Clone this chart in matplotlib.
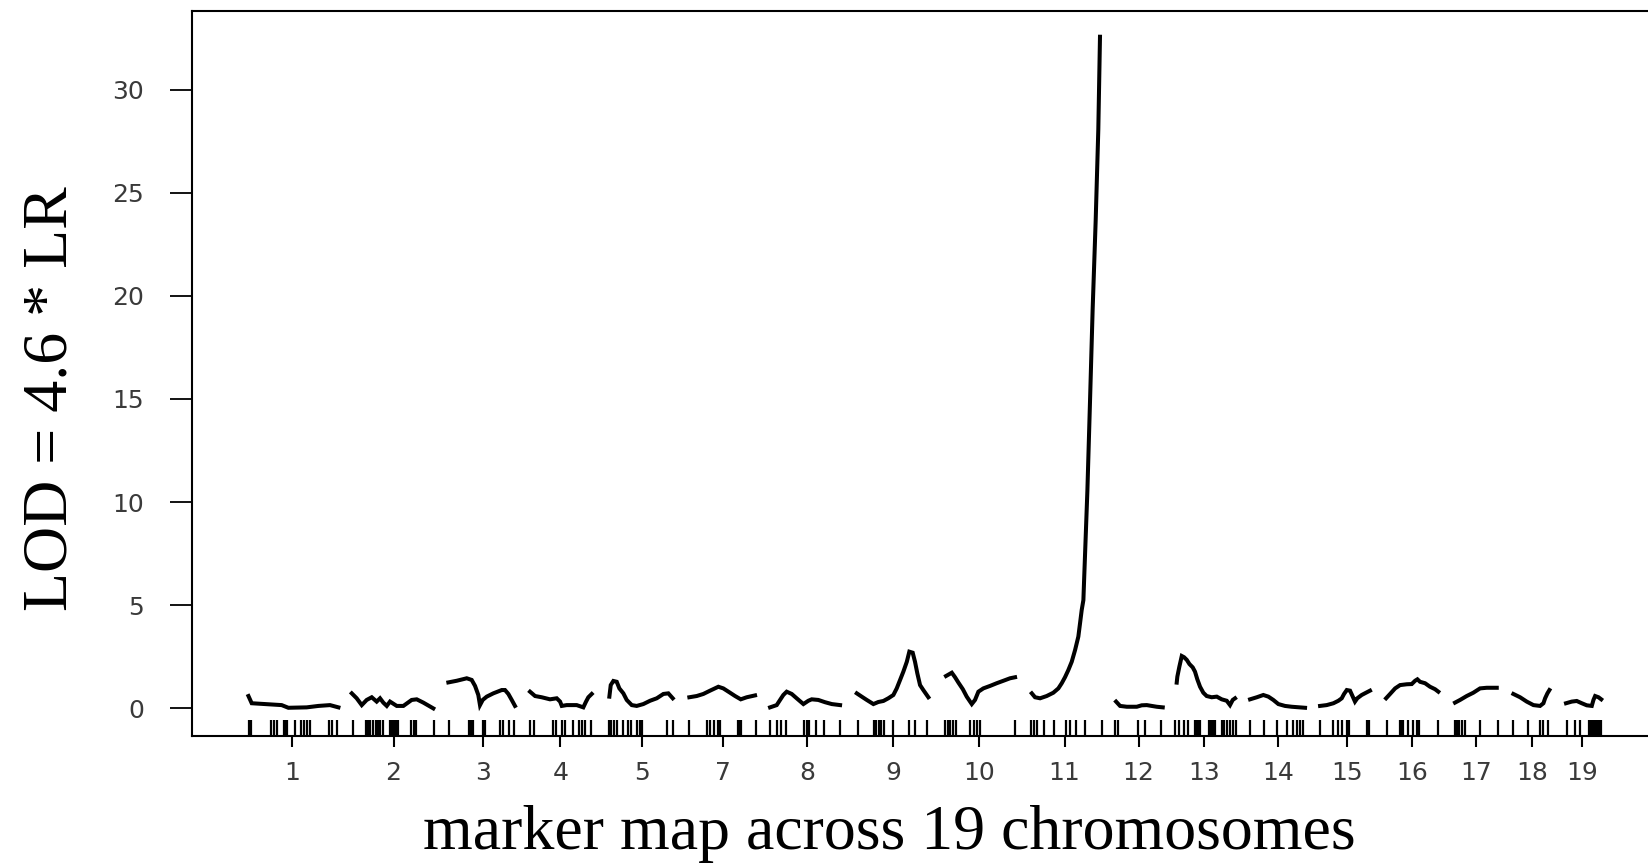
import numpy as np
import matplotlib.pyplot as plt

# LOD curves per chromosome: (map position in cM, LOD)
chr1_lod = [(53.4, 0.60), (56.5, 0.25), (85, 0.16), (91.4, 0.03), (108.8, 0.05),
            (120, 0.12), (131, 0.16), (139, 0.05)]
chr2_lod = [(151.7, 0.73), (156.4, 0.49), (161.2, 0.16), (165.9, 0.41), (170.7, 0.54),
            (175.4, 0.33), (178.6, 0.49), (181.7, 0.28), (185, 0.12), (188.1, 0.33),
            (194.5, 0.12), (200.8, 0.12), (208.7, 0.41), (213.5, 0.44), (219.8, 0.28),
            (229.3, 0.0)]
chr3_lod = [(243.6, 1.26), (251.6, 1.34), (261.1, 1.46), (265.8, 1.38), (269, 1.09),
            (272.1, 0.65), (273.7, 0.16), (276.3, 0.41), (280.1, 0.57), (286.4, 0.73),
            (294.4, 0.89), (297.5, 0.89), (300.7, 0.70), (303.9, 0.41), (307, 0.12)]
chr4_lod = [(321.3, 0.81), (326.1, 0.60), (332.4, 0.54), (340.3, 0.44), (346.7, 0.49),
            (349.9, 0.33), (351.5, 0.12), (356.2, 0.16), (365.7, 0.16), (372, 0.05),
            (374.6, 0.33), (376.8, 0.54), (380, 0.70)]
chr5_lod = [(396.8, 0.57), (398.1, 1.13), (400.6, 1.33), (403.8, 1.29), (406.3, 0.97),
            (410.1, 0.73), (413.3, 0.41), (418.1, 0.16), (422.8, 0.12), (429.1, 0.21),
            (435.5, 0.37), (441.9, 0.49), (448.2, 0.70), (452.9, 0.73), (457.1, 0.49)]
chr7_lod = [(472.9, 0.54), (479.9, 0.60), (486.2, 0.70), (492.6, 0.86), (500.5, 1.05),
            (505.2, 0.97), (511.6, 0.76), (516.4, 0.60), (521.8, 0.44), (527.5, 0.54),
            (535.4, 0.63)]
chr8_lod = [(549.7, 0.05), (556, 0.16), (559.2, 0.41), (562.3, 0.65), (565.5, 0.81),
            (570.3, 0.70), (575, 0.49), (581.4, 0.21), (586.1, 0.37), (589.3, 0.44),
            (595.6, 0.41), (602, 0.30), (608.4, 0.21), (616.3, 0.16)]
chr9_lod = [(632.2, 0.73), (636.9, 0.57), (641.7, 0.41), (648, 0.21), (652.7, 0.31),
            (657.5, 0.36), (662.2, 0.49), (667, 0.65), (670.2, 0.97), (673.4, 1.38),
            (676.5, 1.78), (679.8, 2.26), (682.2, 2.75), (685.4, 2.70), (687.6, 2.26),
            (689.8, 1.70), (692.4, 1.13), (695.5, 0.89), (700.3, 0.54)]
chr10_lod = [(717.1, 1.57), (722.6, 1.73), (725.7, 1.51), (728.9, 1.25), (733.1, 0.93),
             (736.8, 0.57), (741.6, 0.21), (744.7, 0.41), (747.9, 0.81), (752.6, 0.97),
             (759, 1.09), (765.3, 1.22), (771.7, 1.34), (778, 1.46), (782.8, 1.51)]
chr11_lod = [(798.7, 0.73), (801.8, 0.54), (806.6, 0.49), (812.9, 0.60), (819.2, 0.76),
             (824, 0.97), (827.2, 1.22), (830.3, 1.51), (833.5, 1.86), (836.7, 2.26),
             (839.9, 2.83), (843, 3.48), (844.6, 4.12), (846.2, 4.77), (847.8, 5.25),
             (848.4, 6.10), (851.6, 10.55), (854.1, 14.88), (856.6, 19.33), (859.5, 23.66),
             (862, 28.07), (863.6, 32.56)]
chr12_lod = [(878.9, 0.33), (882.7, 0.12), (889.1, 0.08), (898.6, 0.08), (903.3, 0.15),
             (908.1, 0.16), (912.8, 0.12), (917.6, 0.08), (923.3, 0.05)]
chr13_lod = [(936.6, 1.25), (937.2, 1.54), (939.1, 2.02), (941.4, 2.54), (943.6, 2.48),
             (946.2, 2.35), (948.7, 2.15), (951.8, 1.99), (954, 1.78), (956.2, 1.41),
             (958.8, 1.05), (961.9, 0.76), (965.1, 0.60), (969.9, 0.54), (974.7, 0.57),
             (979.4, 0.44), (984.2, 0.37), (987.3, 0.16), (989.9, 0.41), (992.1, 0.49)]
chr14_lod = [(1006.4, 0.44), (1012.8, 0.54), (1019, 0.65), (1023.8, 0.57), (1028.5, 0.41),
             (1033.3, 0.21), (1039.6, 0.12), (1046, 0.08), (1058.7, 0.03)]
chr15_lod = [(1073, 0.12), (1079.3, 0.16), (1085.7, 0.25), (1090.4, 0.37), (1093.6, 0.49),
             (1095.8, 0.70), (1098.4, 0.89), (1101.5, 0.86), (1104.1, 0.57), (1106.2, 0.33),
             (1108.4, 0.49), (1112.6, 0.65), (1116.7, 0.76), (1120.5, 0.86)]
chr16_lod = [(1135.8, 0.49), (1139.6, 0.70), (1144.4, 0.97), (1149.1, 1.13), (1155.5, 1.17),
             (1160.2, 1.18), (1163.4, 1.34), (1165.6, 1.41), (1168.1, 1.29), (1172.9, 1.22),
             (1177.6, 1.05), (1182.4, 0.93), (1185.5, 0.81)]
chr17_lod = [(1201.4, 0.28), (1206.2, 0.41), (1212.5, 0.60), (1218.8, 0.76), (1225.2, 0.97),
             (1231.6, 1.00), (1241.1, 1.00)]
chr18_lod = [(1256.9, 0.70), (1263.3, 0.54), (1269.6, 0.33), (1276, 0.16), (1282.3, 0.12),
             (1285.5, 0.25), (1287.1, 0.49), (1289.3, 0.73), (1291.2, 0.89)]
chr19_lod = [(1307, 0.25), (1312.5, 0.33), (1317.2, 0.36), (1322, 0.25), (1326.7, 0.15),
             (1331.5, 0.12), (1333.1, 0.41), (1334.7, 0.60), (1337.9, 0.54), (1340.5, 0.44)]

curves = [chr1_lod, chr2_lod, chr3_lod, chr4_lod, chr5_lod, chr7_lod, chr8_lod, chr9_lod,
          chr10_lod, chr11_lod, chr12_lod, chr13_lod, chr14_lod, chr15_lod, chr16_lod,
          chr17_lod, chr18_lod, chr19_lod]

# marker positions (cM) shown as rug
markers = [53.5, 56.2, 74.9, 77.3, 80.7, 86.8, 88.5, 90.2, 97.7, 103.1, 106.2, 108.9, 111.6,
           130.3, 133.0, 137.8,
           153.1, 165.0, 167.0, 169.5, 171.8, 175.0, 177.0, 179.0, 181.0, 188.5, 190.2, 191.9,
           193.6, 195.3, 208.5, 210.9, 213.2, 230.2,
           243.8, 262.8, 264.9, 266.9, 276.4, 278.8, 292.4, 295.8, 300.9, 306.0,
           321.3, 324.7, 343.4, 345.8, 351.9, 354.6, 362.1, 368.2, 370.6, 374.0, 379.1,
           396.0, 398.8, 401.2, 404.5, 409.6, 414.7, 417.1, 423.2, 425.9, 428.3, 452.1, 457.2,
           472.5, 489.5, 492.9, 496.3, 499.7, 502.1, 519.1, 520.5, 521.8, 536.0,
           549.6, 556.4, 559.8, 564.9, 581.9, 584.6, 587.0, 593.8, 600.6, 615.9,
           632.9, 648.2, 650.9, 653.3, 655.7, 658.4, 666.9, 682.2, 687.3, 699.1,
           716.1, 718.8, 721.2, 723.6, 726.3, 739.9, 743.3, 746.7, 749.4, 782.4,
           797.7, 801.1, 803.8, 810.6, 819.8, 831.7, 835.1, 840.8, 849.3, 865.6,
           877.5, 880.9, 899.6, 906.4, 921.7,
           935.3, 938.7, 943.8, 947.2, 954.0, 955.7, 957.4, 959.1, 966.9, 969.0, 971.0, 973.0,
           979.5, 981.8, 984.6, 987.3, 990.0, 992.7,
           1006.5, 1019.5, 1031.8, 1041.2, 1047.6, 1050.7, 1053.9, 1057.1,
           1073.0, 1085.6, 1090.4, 1093.6, 1098.3, 1100.9, 1117.4, 1118.7, 1119.9,
           1136.4, 1149.1, 1150.4, 1151.6, 1157.0, 1161.8, 1165.0, 1166.3, 1167.5, 1185.6,
           1201.4, 1203.0, 1205.5, 1207.8, 1210.9, 1225.2, 1242.6,
           1256.9, 1271.2, 1282.3, 1285.5, 1290.2,
           1307.7, 1315.6, 1320.4, 1329.2, 1330.4, 1331.5, 1332.6, 1333.7, 1335.0, 1336.2,
           1337.3, 1338.4, 1339.2, 1340.0]

chrom_labels = ['1', '2', '3', '4', '5', '7', '8', '9', '10', '11', '12', '13', '14',
                '15', '16', '17', '18', '19']
chrom_centers = [94.6, 191.5, 276.5, 350.2, 427.7, 504.8, 584.7, 666.9, 748.4, 829.9,
                 900.3, 962.5, 1032.7, 1098.3, 1160.8, 1221.1, 1274.4, 1322.5]

fig = plt.figure(figsize=(16.48, 8.64), dpi=100)
ax = fig.add_axes([0.1167, 0.1481, 0.8833, 0.8397])

for c in curves:
    xs, ys = zip(*c)
    ax.plot(xs, ys, color='black', lw=2.9, solid_joinstyle='miter')

# rug of markers along the bottom
ax.vlines(markers, 0, 0.022, transform=ax.get_xaxis_transform(), color='black', lw=1.6)

ax.set_xlim(0, 1385)
ax.set_ylim(-1.34, 33.83)
ax.set_yticks(np.arange(0, 31, 5))
ax.set_xticks(chrom_centers)
ax.set_xticklabels(chrom_labels)

for s in ['left', 'bottom', 'top']:
    ax.spines[s].set_linewidth(1.5)
ax.spines['right'].set_visible(False)

ax.tick_params(axis='y', length=15.8, width=1.3, pad=19, labelsize=18, labelcolor='#3a3a3a')
ax.tick_params(axis='x', length=8, width=1.5, pad=10, labelsize=18, labelcolor='#3a3a3a')

fig.text(0.031, 0.539, 'LOD = 4.6 * LR', rotation=90, ha='center', va='center',
         family='Liberation Serif', fontsize=46)
fig.text(0.5399, 0.0175, 'marker map across 19 chromosomes', ha='center', va='baseline',
         family='Liberation Serif', fontsize=46)

fig.savefig('out.png', dpi=100)
